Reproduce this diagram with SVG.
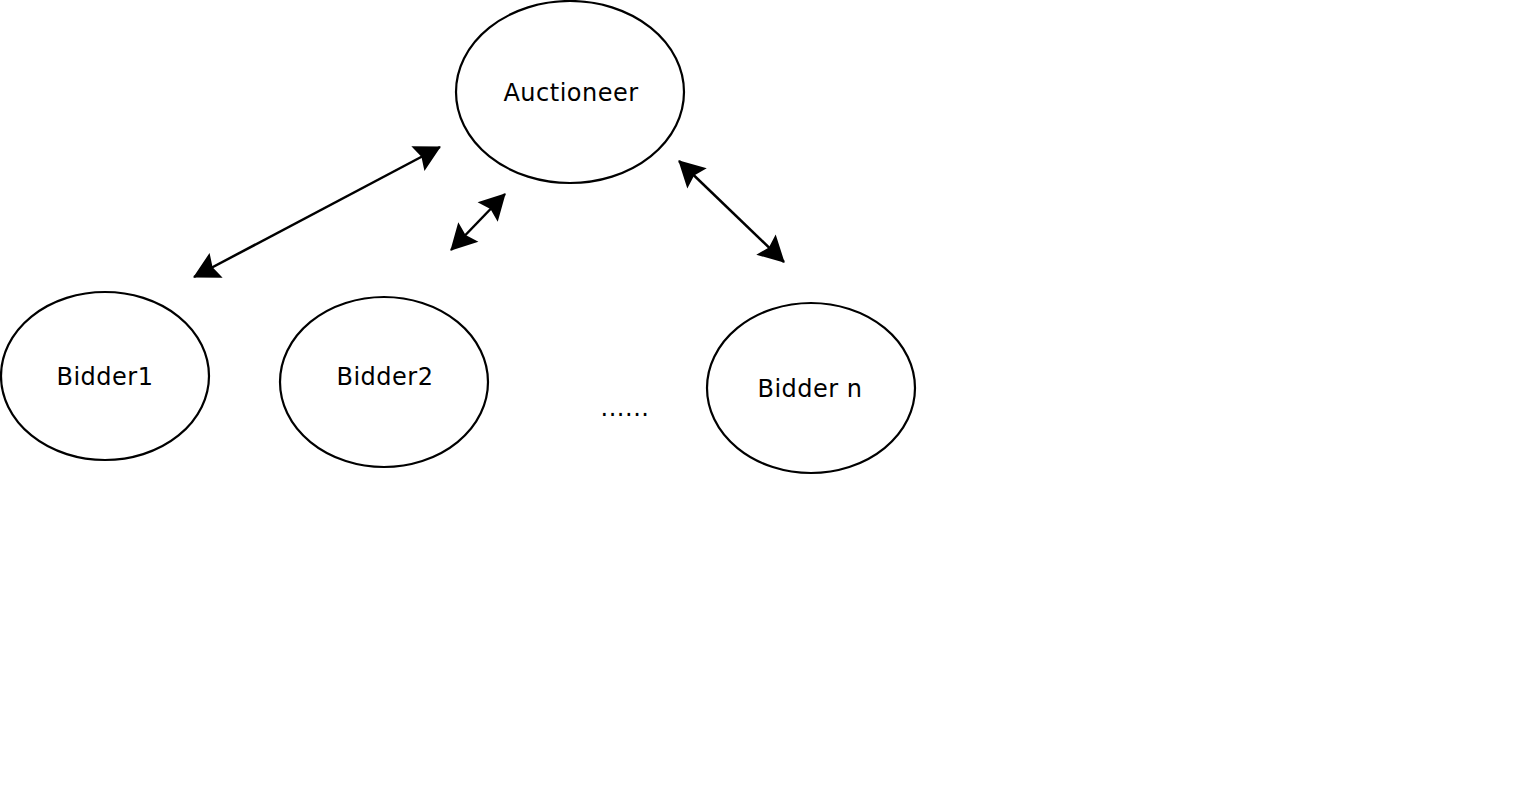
<svg xmlns="http://www.w3.org/2000/svg" width="1522" height="791" viewBox="0 0 1522 791">
<style>
.node{fill:#fff;stroke:#000;stroke-width:2.2}
.lbl{font-family:"DejaVu Sans",sans-serif;font-size:24px;fill:#000;text-anchor:middle;letter-spacing:0.5px}
.conn{stroke:#000;stroke-width:2.5;fill:none;marker-start:url(#ah);marker-end:url(#ah)}
</style>
<defs>
<marker id="ah" markerUnits="userSpaceOnUse" markerWidth="32" markerHeight="32" viewBox="-28 -16 32 32" refX="0" refY="0" orient="auto-start-reverse">
<path d="M1,0 L-25,-14 L-21,0 L-25,14 Z" fill="#000"/>
</marker>
</defs>
<rect width="1522" height="791" fill="#fff"/>
<g id="auctioneer">
<ellipse class="node" cx="570" cy="92" rx="114" ry="91"/>
<text class="lbl" x="571" y="101">Auctioneer</text>
</g>
<g id="bidder1">
<ellipse class="node" cx="105" cy="376" rx="104" ry="84"/>
<text class="lbl" x="105" y="385">Bidder1</text>
</g>
<g id="bidder2">
<ellipse class="node" cx="384" cy="382" rx="104" ry="85"/>
<text class="lbl" x="385" y="385">Bidder2</text>
</g>
<g id="biddern">
<ellipse class="node" cx="811" cy="388" rx="104" ry="85"/>
<text class="lbl" x="810" y="397">Bidder n</text>
</g>
<g id="ellipsis">
<text class="lbl" x="625" y="416">......</text>
</g>
<g id="connectors">
<line class="conn" x1="194" y1="277" x2="440" y2="147"/>
<line class="conn" x1="451" y1="250" x2="505" y2="194"/>
<line class="conn" x1="679" y1="161" x2="784" y2="262"/>
</g>
</svg>
